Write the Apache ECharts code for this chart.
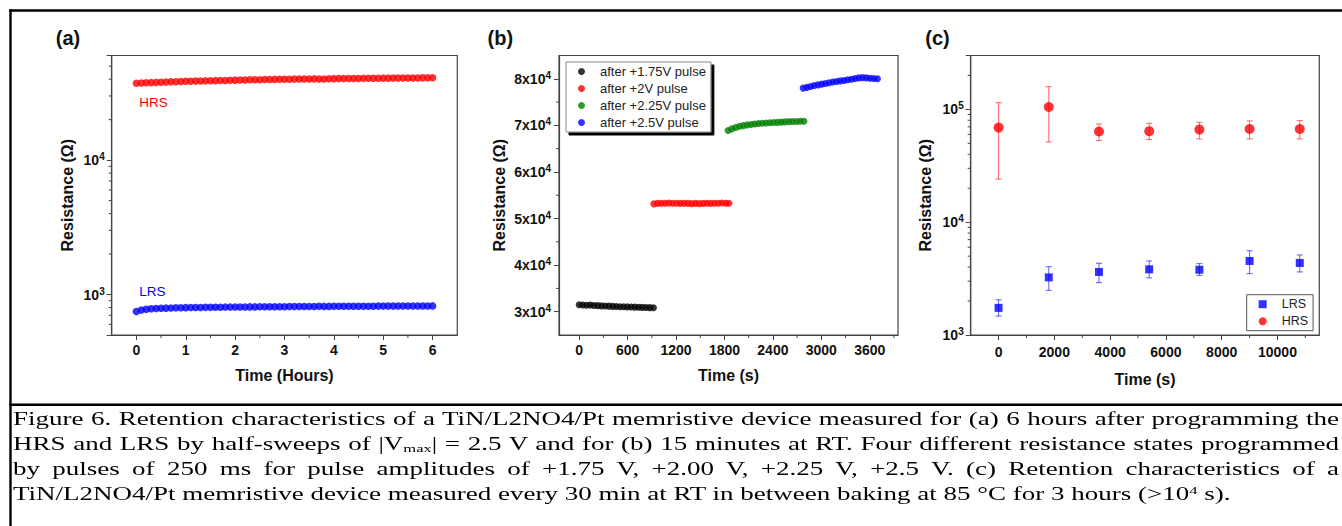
<!DOCTYPE html>
<html><head><meta charset="utf-8">
<script src="https://cdn.jsdelivr.net/npm/echarts@6/dist/echarts.min.js"></script>
<style>
html,body{margin:0;padding:0;background:#fff;}
#wrap{position:relative;width:1342px;height:526px;overflow:hidden;background:#fff;}
#chart{position:absolute;left:0;top:0;width:1342px;height:526px;}
#cap{position:absolute;left:12.5px;top:406.5px;width:884px;transform:scaleX(1.5);transform-origin:0 0;font-family:'Liberation Serif','Times New Roman',serif;font-size:18px;line-height:25.3px;color:#000;}
#cap .j{text-align:justify;text-align-last:justify;white-space:nowrap;}
#cap .l{text-align:left;white-space:nowrap;}
#cap sub{font-size:11px;vertical-align:-2px;line-height:0;}
#cap sup{font-size:11px;vertical-align:6px;line-height:0;}
</style>
</head><body>
<div id="wrap">
<div id="chart"></div>
<div id="cap">
<div class="j">Figure 6. Retention characteristics of a TiN/L2NO4/Pt memristive device measured for (a) 6 hours after programming the</div>
<div class="j">HRS and LRS by half-sweeps of |V<sub>max</sub>| = 2.5 V and for (b) 15 minutes at RT. Four different resistance states programmed</div>
<div class="j">by pulses of 250 ms for pulse amplitudes of +1.75 V, +2.00 V, +2.25 V, +2.5 V. (c) Retention characteristics of a</div>
<div class="l">TiN/L2NO4/Pt memristive device measured every 30 min at RT in between baking at 85 °C for 3 hours (&gt;10<sup>4</sup> s).</div>
</div>
</div>
<script>
// ---------- Panel (a) data: time (hours) vs resistance ----------
const timeA = [0,0.1,0.2,0.3,0.4,0.5,0.6,0.7,0.8,0.9,1.0,1.1,1.2,1.3,1.4,1.5,1.6,1.7,1.8,1.9,2.0,2.1,2.2,2.3,2.4,2.5,2.6,2.7,2.8,2.9,3.0,3.1,3.2,3.3,3.4,3.5,3.6,3.7,3.8,3.9,4.0,4.1,4.2,4.3,4.4,4.5,4.6,4.7,4.8,4.9,5.0,5.1,5.2,5.3,5.4,5.5,5.6,5.7,5.8,5.9,6.0];
const hrsA = [37300,37450,37600,37700,37850,37950,38050,38200,38300,38450,38550,38650,38700,38800,38850,38950,39000,39100,39150,39250,39350,39400,39450,39550,39600,39650,39750,39800,39850,39900,40000,40000,40050,40100,40150,40150,40200,40050,40150,40300,40350,40400,40400,40450,40500,40500,40550,40600,40600,40650,40700,40700,40750,40750,40800,40800,40850,40850,40900,40900,40950];
const lrsA = [748,766,776,783,787,790,792,794,796,798,799,800,801,802,803,803,804,805,806,806,807,808,808,809,809,810,810,811,811,812,812,813,813,814,814,815,815,817,816,816,817,817,817,818,818,818,819,819,819,820,820,820,820,821,821,821,821,822,822,822,823];
const ticksAx = [0,1,2,3,4,5,6];
const minorAx = [0.5,1.5,2.5,3.5,4.5,5.5];
const minorAy = [600,700,800,900,2000,3000,4000,5000,6000,7000,8000,9000,20000,30000,40000,50000];

// ---------- Panel (b) data: time (s) vs resistance after pulses ----------
const timeB1 = [0,46,92,138,184,230,276,322,368,414,460,506,552,598,644,690,736,782,828,874,920];
const resB1 = [31500,31450,31400,31420,31350,31300,31250,31220,31200,31150,31100,31080,31050,31030,31000,30980,30950,30930,30900,30880,30850];
const timeB2 = [925,972,1019,1066,1113,1160,1207,1254,1301,1348,1395,1442,1489,1536,1583,1630,1677,1724,1771,1818,1855];
const resB2 = [53150,53250,53300,53300,53350,53300,53300,53250,53300,53250,53200,53250,53200,53250,53300,53250,53300,53300,53350,53300,53300];
const timeB3 = [1845,1892,1939,1986,2033,2080,2127,2174,2221,2268,2315,2362,2409,2456,2503,2550,2597,2644,2691,2738,2785];
const resB3 = [68900,69250,69550,69800,69950,70100,70200,70300,70400,70450,70500,70550,70600,70650,70700,70750,70800,70850,70850,70900,70900];
const timeB4 = [2775,2821,2867,2913,2959,3005,3051,3097,3143,3189,3235,3281,3327,3373,3419,3465,3511,3557,3603,3649,3695];
const resB4 = [78000,78150,78350,78550,78700,78850,79000,79150,79300,79400,79550,79650,79800,79900,80050,80200,80250,80200,80100,80050,80000];
const namesB = ['after +1.75V pulse','after +2V pulse','after +2.25V pulse','after +2.5V pulse'];
const ticksBx = [0,600,1200,1800,2400,3000,3600];
const minorBx = [300,900,1500,2100,2700,3300,3900];
const ticksBy = [30000,40000,50000,60000,70000,80000];
const minorBy = [35000,45000,55000,65000,75000];

// ---------- Panel (c) data: baking retention with error bars ----------
const timeC = [0,1800,3600,5400,7200,9000,10800];
const hrsC = [68900,104800,63600,64000,66100,67000,67000];
const hrsHi = [114600,158600,74200,75200,76800,78900,79400];
const hrsLo = [24100,51400,52900,54000,54700,54700,54700];
const lrsC = [1740,3240,3620,3820,3790,4530,4350];
const lrsHi = [2050,4030,4320,4530,4290,5580,5120];
const lrsLo = [1470,2490,2910,3210,3380,3500,3620];
const ticksCx = [0,2000,4000,6000,8000,10000];
const minorCx = [1000,3000,5000,7000,9000,11000];
const minorCy = [2000,3000,4000,5000,6000,7000,8000,9000,20000,30000,40000,50000,60000,70000,80000,90000,200000];

const FONT = '"Liberation Sans", Arial, sans-serif';
const AX = '#444';
const chart = echarts.init(document.getElementById('chart'), null, {renderer: 'svg'});

function zip(xs, ys){ return xs.map((x,i)=>[x, ys[i]]); }
function plain(v){ return String(v); }
function logFmt(v){
  const e = Math.log10(v);
  if (Math.abs(e - Math.round(e)) > 1e-6) return '';
  return '{b|10}{s|' + Math.round(e) + '}';
}
const richSup = {
  b: {fontFamily: FONT, fontWeight: 'bold', fontSize: 14, color: '#111', lineHeight: 17},
  s: {fontFamily: FONT, fontWeight: 'bold', fontSize: 10, color: '#111', lineHeight: 11, verticalAlign: 'top'}
};
function baseAxis(extra){
  return Object.assign({
    axisLine: {show: true, onZero: false, lineStyle: {color: AX, width: 1.2}},
    axisTick: {show: true, length: 5, lineStyle: {color: AX, width: 1}},
    splitLine: {show: false},
    nameLocation: 'middle',
    nameTextStyle: {fontFamily: FONT, fontWeight: 'bold', fontSize: 16, color: '#111'}
  }, extra);
}
function labelStyle(extra){
  return Object.assign({fontFamily: FONT, fontWeight: 'bold', fontSize: 14, color: '#111', formatter: plain}, extra);
}
function minorYRender(params, api){
  const p = api.coord([api.value(0), api.value(1)]);
  return {type: 'line', shape: {x1: p[0] - 3, y1: p[1], x2: p[0], y2: p[1]}, style: {stroke: AX, lineWidth: 1}};
}
function minorXRender(params, api){
  const p = api.coord([api.value(0), api.value(1)]);
  return {type: 'line', shape: {x1: p[0], y1: p[1], x2: p[0], y2: p[1] + 3}, style: {stroke: AX, lineWidth: 1}};
}
function errRender(color){
  return function(params, api){
    const x = api.value(0), lo = api.value(1), hi = api.value(2);
    const pl = api.coord([x, lo]), ph = api.coord([x, hi]);
    const w = 3;
    const st = {stroke: color, lineWidth: 1};
    return {type: 'group', children: [
      {type: 'line', shape: {x1: pl[0], y1: pl[1], x2: ph[0], y2: ph[1]}, style: st},
      {type: 'line', shape: {x1: pl[0]-w, y1: pl[1], x2: pl[0]+w, y2: pl[1]}, style: st},
      {type: 'line', shape: {x1: ph[0]-w, y1: ph[1], x2: ph[0]+w, y2: ph[1]}, style: st}
    ]};
  };
}
const A_XMIN = -0.5, A_YMIN = 500, B_XMIN = -250, B_YMIN = 25000, C_XMIN = -1000, C_YMIN = 1000;

const option = {
  animation: false,
  backgroundColor: '#fff',
  grid: [
    {left: 111.7, top: 55.5, width: 345.6, height: 279.5, show: true, borderColor: AX, borderWidth: 1.2, backgroundColor: 'transparent'},
    {left: 559, top: 55.5, width: 339, height: 279.5, show: true, borderColor: AX, borderWidth: 1.2, backgroundColor: 'transparent'},
    {left: 970.7, top: 55.5, width: 348.6, height: 279.5, show: true, borderColor: AX, borderWidth: 1.2, backgroundColor: 'transparent'}
  ],
  xAxis: [
    baseAxis({gridIndex: 0, type: 'value', position: 'bottom', min: A_XMIN, max: 6.5, name: 'Time (Hours)', nameGap: 32,
      axisTick: {show: true, length: 5, customValues: ticksAx, lineStyle: {color: AX, width: 1}},
      axisLabel: labelStyle({customValues: ticksAx, margin: 8})}),
    baseAxis({gridIndex: 1, type: 'value', position: 'bottom', min: B_XMIN, max: 3950, name: 'Time (s)', nameGap: 32,
      axisTick: {show: true, length: 5, customValues: ticksBx, lineStyle: {color: AX, width: 1}},
      axisLabel: labelStyle({customValues: ticksBx, margin: 8})}),
    baseAxis({gridIndex: 2, type: 'value', position: 'bottom', min: C_XMIN, max: 11500, name: 'Time (s)', nameGap: 36,
      axisTick: {show: true, length: 5, customValues: ticksCx, lineStyle: {color: AX, width: 1}},
      axisLabel: labelStyle({customValues: ticksCx, margin: 10})})
  ],
  yAxis: [
    baseAxis({gridIndex: 0, type: 'log', logBase: 10, position: 'left', min: A_YMIN, max: 60000, name: 'Resistance (Ω)', nameGap: 36,
      axisLabel: {formatter: logFmt, rich: richSup, margin: 7}}),
    baseAxis({gridIndex: 1, type: 'value', position: 'left', min: B_YMIN, max: 85000, name: 'Resistance (Ω)', nameGap: 52,
      axisTick: {show: true, length: 5, customValues: ticksBy, lineStyle: {color: AX, width: 1}},
      axisLabel: {customValues: ticksBy, margin: 8, rich: richSup,
        formatter: function(v){ return '{b|' + Math.round(v/10000) + 'x10}{s|4}'; }}}),
    baseAxis({gridIndex: 2, type: 'log', logBase: 10, position: 'left', min: C_YMIN, max: 300000, name: 'Resistance (Ω)', nameGap: 37,
      axisLabel: {formatter: logFmt, rich: richSup, margin: 7}})
  ],
  legend: [
    {data: namesB.map(n => ({name: n, icon: 'circle'})), orient: 'vertical', left: 566, top: 62, padding: [3, 5, 3, 12],
      itemWidth: 7, itemHeight: 7, itemGap: 4,
      backgroundColor: '#fff', borderColor: '#888', borderWidth: 1, borderRadius: 0,
      shadowColor: '#000', shadowBlur: 0, shadowOffsetX: 3, shadowOffsetY: 3,
      textStyle: {fontFamily: FONT, fontSize: 13, lineHeight: 12, color: '#222', padding: [0, 0, 0, 10]}, selectedMode: false},
    {data: [{name: 'LRS', icon: 'rect'}, {name: 'HRS', icon: 'circle'}], orient: 'vertical', left: 1246.7, top: 294.7, padding: [3, 5, 3, 12],
      itemWidth: 8, itemHeight: 8, itemGap: 4,
      backgroundColor: '#fff', borderColor: '#555', borderWidth: 1, borderRadius: 0,
      textStyle: {fontFamily: FONT, fontSize: 12.5, lineHeight: 12, color: '#222', padding: [0, 0, 0, 10]}, selectedMode: false}
  ],
  series: [
    // panel (a)
    {name: 'HRS (a)', type: 'scatter', xAxisIndex: 0, yAxisIndex: 0, symbol: 'circle', symbolSize: 7.5, data: zip(timeA, hrsA), itemStyle: {color: '#ff0000'}},
    {name: 'LRS (a)', type: 'scatter', xAxisIndex: 0, yAxisIndex: 0, symbol: 'circle', symbolSize: 7.5, data: zip(timeA, lrsA), itemStyle: {color: '#0000ff'}},
    {name: 'minor a y', type: 'custom', xAxisIndex: 0, yAxisIndex: 0, silent: true, clip: false, renderItem: minorYRender, data: minorAy.map(v => [A_XMIN, v])},
    {name: 'minor a x', type: 'custom', xAxisIndex: 0, yAxisIndex: 0, silent: true, clip: false, renderItem: minorXRender, data: minorAx.map(v => [v, A_YMIN])},
    // panel (b)
    {name: namesB[0], type: 'scatter', xAxisIndex: 1, yAxisIndex: 1, symbolSize: 7, data: zip(timeB1, resB1), itemStyle: {color: '#000000'}},
    {name: namesB[1], type: 'scatter', xAxisIndex: 1, yAxisIndex: 1, symbolSize: 7, data: zip(timeB2, resB2), itemStyle: {color: '#ff0000'}},
    {name: namesB[2], type: 'scatter', xAxisIndex: 1, yAxisIndex: 1, symbolSize: 7, data: zip(timeB3, resB3), itemStyle: {color: '#008000'}},
    {name: namesB[3], type: 'scatter', xAxisIndex: 1, yAxisIndex: 1, symbolSize: 7, data: zip(timeB4, resB4), itemStyle: {color: '#0000ff'}},
    {name: 'minor b y', type: 'custom', xAxisIndex: 1, yAxisIndex: 1, silent: true, clip: false, renderItem: minorYRender, data: minorBy.map(v => [B_XMIN, v])},
    {name: 'minor b x', type: 'custom', xAxisIndex: 1, yAxisIndex: 1, silent: true, clip: false, renderItem: minorXRender, data: minorBx.map(v => [v, B_YMIN])},
    // panel (c)
    {name: 'LRS err', type: 'custom', xAxisIndex: 2, yAxisIndex: 2, silent: true, renderItem: errRender('rgba(40,40,255,0.75)'),
      encode: {x: 0, y: [1, 2]}, data: timeC.map((t,i)=>[t, lrsLo[i], lrsHi[i]]), z: 1},
    {name: 'HRS err', type: 'custom', xAxisIndex: 2, yAxisIndex: 2, silent: true, renderItem: errRender('rgba(255,50,50,0.75)'),
      encode: {x: 0, y: [1, 2]}, data: timeC.map((t,i)=>[t, hrsLo[i], hrsHi[i]]), z: 1},
    {name: 'LRS', type: 'scatter', xAxisIndex: 2, yAxisIndex: 2, symbol: 'rect', symbolSize: 8, data: zip(timeC, lrsC), itemStyle: {color: '#0000ff'}, z: 3},
    {name: 'HRS', type: 'scatter', xAxisIndex: 2, yAxisIndex: 2, symbol: 'circle', symbolSize: 10, data: zip(timeC, hrsC), itemStyle: {color: '#ff0000'}, z: 3},
    {name: 'minor c y', type: 'custom', xAxisIndex: 2, yAxisIndex: 2, silent: true, clip: false, renderItem: minorYRender, data: minorCy.map(v => [C_XMIN, v])},
    {name: 'minor c x', type: 'custom', xAxisIndex: 2, yAxisIndex: 2, silent: true, clip: false, renderItem: minorXRender, data: minorCx.map(v => [v, C_YMIN])}
  ],
  graphic: [
    {type: 'line', silent: true, shape: {x1: 9.3, y1: 10.5, x2: 1342, y2: 10.5}, style: {stroke: '#000', lineWidth: 2.4}},
    {type: 'line', silent: true, shape: {x1: 10.5, y1: 9.3, x2: 10.5, y2: 526}, style: {stroke: '#000', lineWidth: 2.4}},
    {type: 'line', silent: true, shape: {x1: 9.3, y1: 404.7, x2: 1342, y2: 404.7}, style: {stroke: '#000', lineWidth: 2.4}},
    {type: 'text', silent: true, style: {text: '(a)', x: 68, y: 37.5, align: 'center', verticalAlign: 'middle', fontFamily: FONT, fontWeight: 'bold', fontSize: 20, fill: '#111'}},
    {type: 'text', silent: true, style: {text: '(b)', x: 500.3, y: 37.5, align: 'center', verticalAlign: 'middle', fontFamily: FONT, fontWeight: 'bold', fontSize: 20, fill: '#111'}},
    {type: 'text', silent: true, style: {text: '(c)', x: 937.5, y: 37.5, align: 'center', verticalAlign: 'middle', fontFamily: FONT, fontWeight: 'bold', fontSize: 20, fill: '#111'}},
    {type: 'text', silent: true, style: {text: 'HRS', x: 139.3, y: 102.3, align: 'left', verticalAlign: 'middle', fontFamily: FONT, fontSize: 13.5, fill: '#ff0000'}},
    {type: 'text', silent: true, style: {text: 'LRS', x: 139.3, y: 291, align: 'left', verticalAlign: 'middle', fontFamily: FONT, fontSize: 13.5, fill: '#0000ff'}}
  ]
};
chart.setOption(option);
</script>
</body></html>
